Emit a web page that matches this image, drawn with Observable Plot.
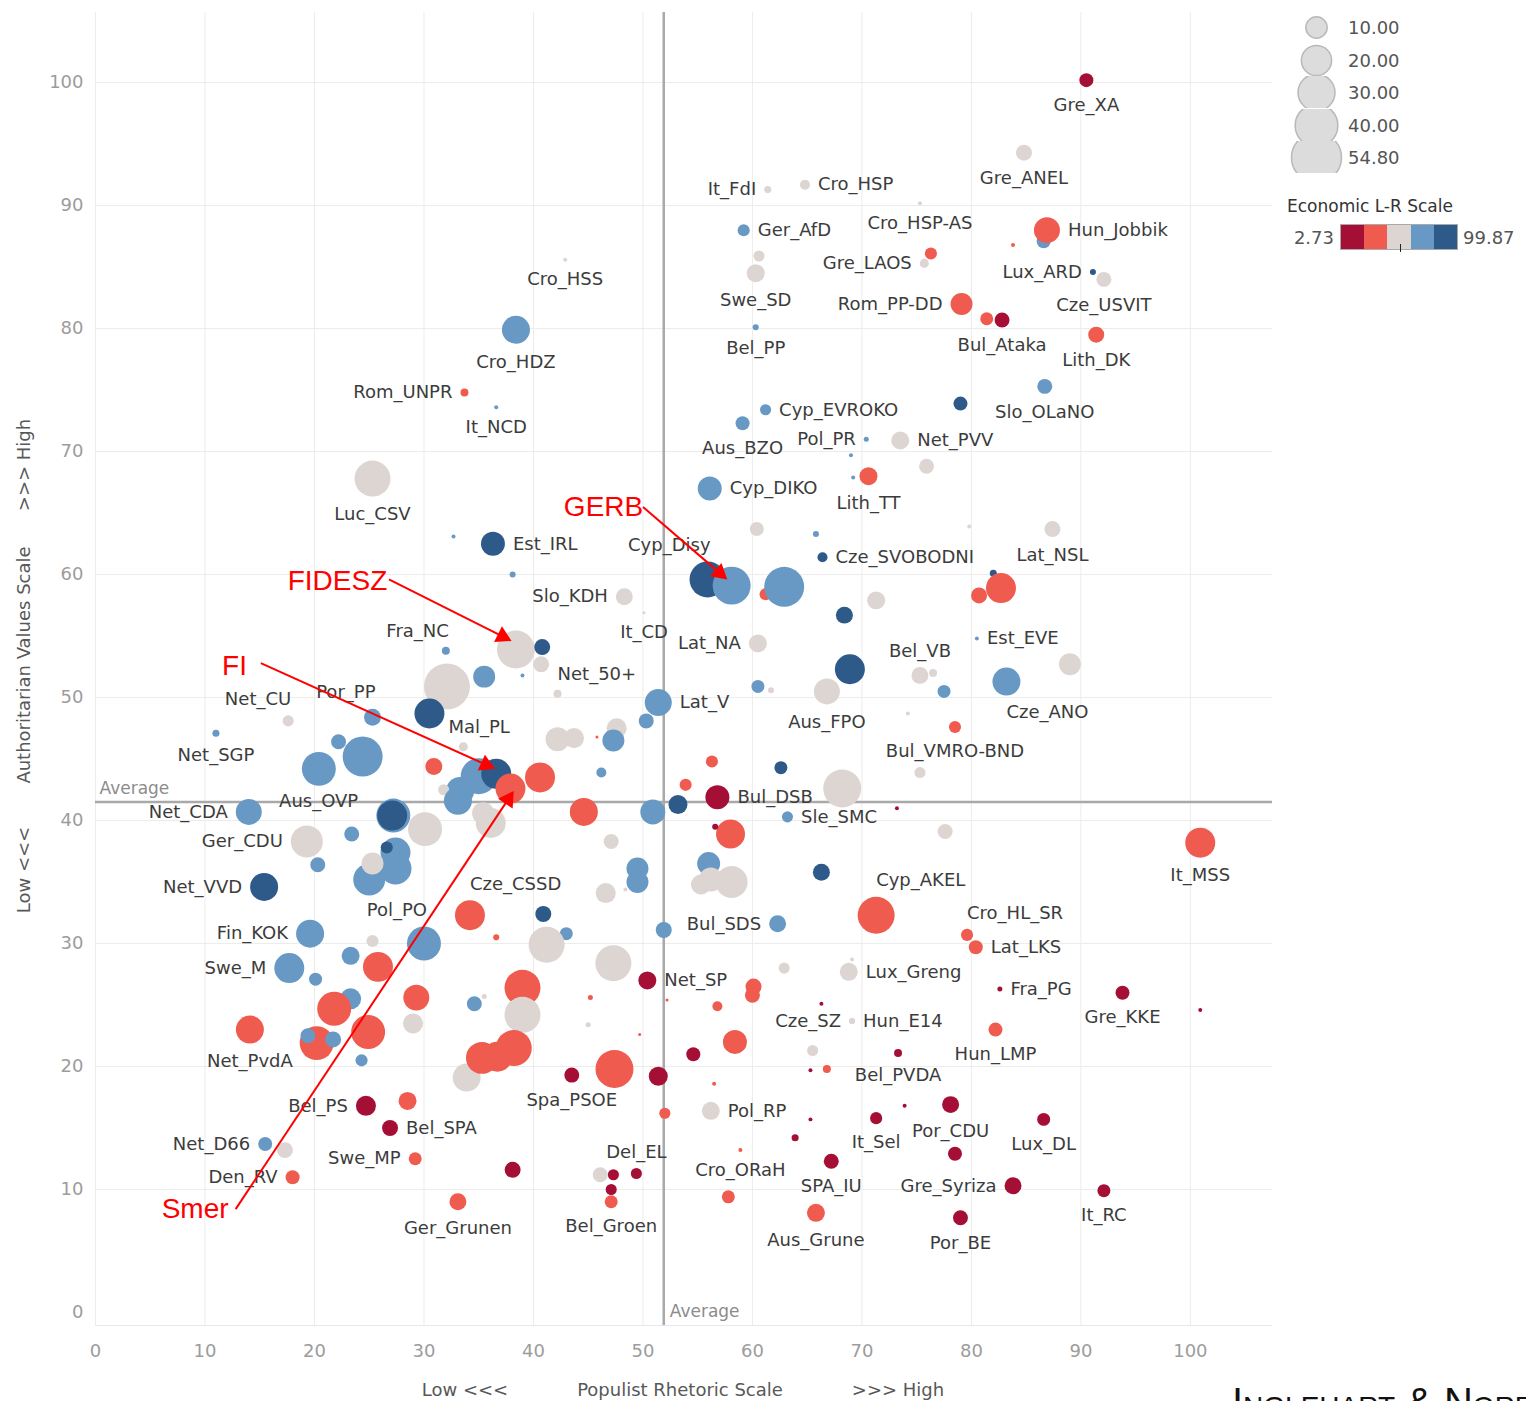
<!DOCTYPE html>
<html><head><meta charset="utf-8">
<script src="https://cdn.jsdelivr.net/npm/d3@7"></script>
<script src="https://cdn.jsdelivr.net/npm/@observablehq/plot@0.6"></script>
<style>
body{margin:0;background:#fff;font-family:"DejaVu Sans",sans-serif;overflow:hidden;width:1526px;height:1401px;position:relative}
.abs{position:absolute;white-space:nowrap}
</style></head><body>
<div id="chart" class="abs" style="left:0;top:0"></div>
<div id="legend"></div>
<script>
// ---------------- DATA ----------------
const parties = [
"Gre_XA","Gre_ANEL","It_FdI","Cro_HSP","Cro_HSP-AS","Ger_AfD","","Hun_Jobbik","","",
"Swe_SD","","Gre_LAOS","Lux_ARD","Cze_USVIT","Rom_PP-DD","","Bul_Ataka","Lith_DK","Bel_PP",
"Slo_OLaNO","","Cyp_EVROKO","Aus_BZO","Pol_PR","Net_PVV","","","Lith_TT","",
"Cyp_DIKO","","","","Lat_NSL","Cze_SVOBODNI","","","","Cyp_Disy",
"","","","","","Lat_NA","Est_EVE","","Bel_VB","",
"","","","Aus_FPO","","Cze_ANO","Lat_V","","","Bul_VMRO-BND",
"","","","","Bul_DSB","","","","","Sle_SMC",
"","","","","","","","","Cyp_AKEL","It_MSS",
"Bul_SDS","","Cro_HL_SR","Lat_LKS","","","Lux_Greng","Net_SP","","",
"Fra_PG","Gre_KKE","","","","","Cze_SZ","Hun_E14","Hun_LMP","",
"","","Bel_PVDA","","","","","Por_CDU","","Pol_RP",
"","","It_Sel","","Lux_DL","","Cro_ORaH","SPA_IU","Gre_Syriza","It_RC",
"","Aus_Grune","Por_BE","Cro_HSS","Cro_HDZ","Rom_UNPR","It_NCD","Luc_CSV","","Est_IRL",
"","Slo_KDH","It_CD","","","","","Fra_NC","","",
"Net_50+","Mal_PL","Por_PP","Net_CU","Net_SGP","","","","","",
"","","","","","","","","","",
"","","","","Net_CDA","","Aus_OVP","","","",
"Ger_CDU","","","","","","","","","Net_VVD",
"","","","","Cze_CSSD","Pol_PO","","","","",
"","Fin_KOK","","","","Swe_M","","","","",
"","","","","","Net_PvdA","","","","",
"","","","","","","","","","Spa_PSOE",
"Bel_PS","","Bel_SPA","Net_D66","","Swe_MP","Den_RV","Ger_Grunen","","",
"","Del_EL","","Bel_Groen"];

const labelPos = [
"b","b","l","r","b","r","","r","","",
"b","","l","l","b","l","","b","b","b",
"b","","r","b","l","r","","","b","",
"r","","","","b","r","","","","tl",
"","","","","","l","r","","t","",
"","","","b","","br","r","","","b",
"","","","","r","","","","","r",
"","","","","","","","","tr","b",
"l","","tr","r","","","r","r","","",
"r","b","","","","","l","r","b","",
"","","b","","","","","b","","r",
"","","b","","b","","b","b","l","b",
"","b","b","b","b","l","b","b","","r",
"","l","b","","","","","tl","","",
"tr","rb","tl","tl","b","","","","","",
"","","","","","","","","","",
"","","","","l","","lt","","","",
"l","","","","","","","","","l",
"","","","","tr","tl","","","","",
"","l","","","","l","","","","",
"","","","","","b","","","","",
"","","","","","","","","","b",
"l","","r","l","","l","l","b","","",
"","t","","b"];

// Populist Rhetoric Scale (x)
const populism = [
90.5,84.8,61.4,64.8,75.3,59.2,86.6,86.9,83.8,60.6,
60.3,76.3,75.7,91.1,92.1,79.1,81.4,82.8,91.4,60.3,
86.7,79.0,61.2,59.1,70.4,73.5,69.0,75.9,70.6,69.2,
56.1,60.4,65.8,79.8,87.4,66.4,82.0,82.7,80.7,55.9,
58.1,61.2,62.9,71.3,68.4,60.5,80.5,89.0,75.3,68.9,
76.5,60.5,61.7,66.8,77.5,83.2,51.4,50.3,74.2,78.5,
56.3,62.6,75.3,53.9,56.8,68.2,53.2,50.9,73.2,63.2,
58.0,56.6,77.6,56.0,55.3,56.2,58.1,66.3,71.3,100.9,
62.3,51.9,79.6,80.4,62.9,69.1,68.8,50.4,60.1,60.0,
82.6,93.8,100.9,66.3,56.8,52.2,69.1,69.1,82.2,58.4,
54.6,65.5,73.3,65.3,66.8,51.4,56.5,78.1,73.9,56.2,
52.0,65.3,71.3,78.5,86.6,63.9,58.9,67.2,83.8,92.1,
57.8,65.8,79.0,42.9,38.4,33.7,36.6,25.3,32.7,36.3,
38.1,48.3,50.1,38.4,40.8,40.7,39.0,32.0,35.5,32.1,
42.2,30.5,25.3,17.6,11.0,47.6,42.2,43.7,47.3,45.8,
22.2,24.4,20.4,33.6,46.2,30.9,35.0,36.6,33.3,31.8,
40.6,37.9,33.1,44.6,14.0,27.2,27.1,30.1,36.1,35.4,
19.3,23.4,47.1,27.4,26.6,27.4,25.0,25.3,20.3,15.4,
49.5,49.5,46.6,48.4,34.2,30.0,40.9,25.3,43.0,36.6,
41.2,19.6,23.3,25.8,47.3,17.7,20.1,29.3,23.3,21.8,
39.0,35.5,34.6,45.2,39.0,14.1,24.9,29.0,45.0,20.2,
19.4,21.7,49.7,33.9,36.7,38.2,24.3,47.4,35.3,43.5,
24.7,28.5,26.9,15.5,17.3,29.2,18.0,33.1,38.1,46.1,
47.3,49.4,47.1,47.1];

// Authoritarian Values Scale (y)
const authoritarian = [
100.2,94.3,91.3,91.7,90.2,88.0,87.1,88.0,86.8,85.9,
84.5,86.1,85.3,84.6,84.0,82.0,80.8,80.7,79.5,80.1,
75.3,73.9,73.4,72.3,71.0,70.9,69.7,68.8,68.0,67.9,
67.0,63.7,63.3,63.9,63.7,61.4,60.1,58.9,58.3,59.6,
59.1,58.4,59.0,57.9,56.7,54.4,54.8,52.7,51.8,52.3,
52.0,50.9,50.6,50.5,50.5,51.3,49.6,48.1,48.7,47.6,
44.8,44.3,43.9,42.9,41.9,42.6,41.3,40.7,41.0,40.3,
38.9,39.5,39.1,36.5,34.8,35.2,35.0,35.8,32.3,38.2,
31.6,31.1,30.7,29.7,28.0,28.7,27.7,27.0,26.5,25.8,
26.3,26.0,24.6,25.1,24.9,25.4,23.7,23.7,23.0,22.0,
21.0,21.3,21.1,19.7,19.8,19.2,18.6,16.9,16.8,16.4,
16.2,15.7,15.8,12.9,15.7,14.2,13.2,12.3,10.3,9.9,
9.4,8.1,7.7,85.6,79.9,74.8,73.6,67.8,63.1,62.5,
60.0,58.2,56.9,53.9,54.1,52.7,51.8,53.8,51.7,50.9,
50.3,48.7,48.4,48.1,47.1,47.5,46.6,46.7,46.5,46.8,
46.4,45.2,44.2,46.0,43.9,44.4,43.6,43.8,42.4,42.5,
43.5,42.6,41.6,40.7,40.7,40.4,40.4,39.3,39.8,40.6,
38.3,38.9,38.3,37.4,37.8,36.1,35.2,36.5,36.4,34.6,
36.1,35.0,34.1,34.4,32.3,30.0,32.4,30.2,30.8,30.5,
29.9,30.8,29.0,28.1,28.4,28.0,27.1,25.6,25.5,24.7,
26.4,25.7,25.1,25.6,24.2,23.0,22.8,23.5,23.4,21.9,
22.5,22.2,22.6,19.1,20.8,21.5,20.5,19.8,20.7,19.3,
16.8,17.2,15.0,13.7,13.2,12.5,11.0,9.0,11.6,11.2,
11.2,11.3,10.0,9.0];

// bubble size (vote share)
const voteShare = [
4.3,5.6,1.1,2.2,0.35,3.2,4.3,14.8,0.35,2.7,
7.1,3.2,1.8,0.8,4.9,10.6,3.7,4.9,5.6,0.8,
4.9,4.3,2.7,4.3,0.55,7.1,0.35,4.9,7.1,0.35,
12.6,4.3,0.8,0.35,5.6,2.2,1.1,19.7,5.6,28.4,
31.6,3.2,35,7.1,6.3,7.1,0.35,10.6,6.3,19.7,
1.4,3.7,0.8,14.8,3.7,17.2,16,4.9,0.35,3.2,
3.2,3.7,2.7,3.2,12.6,31.6,7.9,13.7,0.35,2.7,
18.4,0.8,4.9,11.6,8.8,12.6,22.4,6.3,30,19.7,
6.3,5.6,3.2,4.3,2.7,0.35,7.1,7.1,5.6,4.9,
0.55,4.3,0.35,0.35,2.2,0.2,0.8,0.8,4.3,12.6,
4.3,2.7,1.4,0.35,1.4,7.9,0.35,6.3,0.35,7.1,
2.7,0.35,3.2,4.3,3.7,1.1,0.35,4.9,6.3,3.7,
3.7,7.1,4.9,0.35,17.2,1.4,0.35,28.4,0.35,12.6,
0.8,6.3,0.2,31.6,5.6,5.6,0.35,1.4,10.6,46.3,
1.4,19.7,6.3,2.7,1.1,8.8,12.6,8.8,10.6,0.2,
4.9,35,25.3,1.8,2.2,6.3,28.4,19.7,17.2,2.7,
19.7,19.7,17.2,17.2,14.8,25.3,19.7,25.3,19.7,10.6,
22.4,4.9,4.9,19.7,3.2,22.4,22.4,10.6,4.9,17.2,
10.6,10.6,8.8,0.35,19.7,25.3,5.6,3.2,3.7,0.8,
28.4,17.2,7.1,19.7,28.4,19.7,3.7,14.8,9.7,25.3,
28.4,0.55,4.9,0.55,28.4,17.2,25.3,8.8,0.55,25.3,
4.9,5.6,0.2,17.2,19.7,28.4,3.2,31.6,22.4,4.9,
8.8,7.1,5.6,4.3,5.6,3.7,4.3,6.3,5.6,4.9,
2.7,2.7,2.7,3.7];

// Economic L-R Scale (colour)
const econLR = [
12,51,51,51,51,71,71,32,32,51,
51,32,51,90,51,32,32,12,32,71,
71,90,71,71,71,51,71,51,32,71,
71,51,71,51,51,90,90,32,32,90,
71,32,71,51,90,51,71,51,51,90,
51,71,51,51,71,71,71,71,51,32,
32,90,51,32,12,51,90,71,12,71,
32,12,51,71,51,51,51,90,32,32,
71,71,32,32,51,51,51,12,32,32,
12,12,12,12,32,32,51,51,32,32,
12,51,12,12,32,12,32,12,12,51,
32,12,12,12,12,12,32,12,12,12,
32,32,12,51,71,32,71,51,71,90,
71,51,51,51,90,51,71,71,71,51,
51,90,71,51,71,51,51,51,71,32,
71,71,71,51,71,32,71,90,71,51,
32,32,71,32,71,71,90,51,51,51,
51,71,51,71,90,71,71,51,71,90,
71,71,51,51,32,71,90,51,71,32,
51,71,71,32,51,71,71,32,71,32,
32,51,71,32,51,32,32,51,51,32,
71,71,32,51,32,32,71,32,32,12,
12,32,12,71,51,32,32,32,12,51,
12,12,12,32];

const xTicks = [0,10,20,30,40,50,60,70,80,90,100];
const yTicks = [0,10,20,30,40,50,60,70,80,90,100];
const avgPopulism = 51.9;
const avgAuthoritarian = 41.5;

const econRange = [2.73, 99.87];
const econThresholds = [22.16, 41.59, 61.01, 80.44];
const econColors = ["#a50f36", "#ef5b4e", "#ddd5d2", "#6799c4", "#2d5a88"];

const sizeLegend = [10, 20, 30, 40, 54.8];
const sizeMax = 54.8;

const annoText = ["GERB", "FIDESZ", "FI", "Smer"];
const annoX = [46.4, 22.1, 12.7, 9.1];
const annoY = [65.5, 59.5, 52.6, 8.4];
const arrowFromX = [50.0, 26.8, 15.1, 12.8];
const arrowFromY = [65.5, 59.6, 52.8, 8.4];
const arrowToX = [57.7, 38.0, 36.5, 38.2];
const arrowToY = [59.6, 54.6, 44.2, 42.4];

// ---------------- LAYOUT ----------------
const n = parties.length;
[labelPos, populism, authoritarian, voteShare, econLR].forEach((a, k) => {
  if (a.length !== n) throw new Error("length mismatch in array " + k + ": " + a.length + " vs " + n);
});

const W = 1526, H = 1401, mL = 95, mR = 254, mT = 12, mB = 76;
const xDomain = [0, 107.5], yDomain = [-1.06, 105.7];
const kx = (W - mL - mR) / (xDomain[1] - xDomain[0]);
const ky = (H - mT - mB) / (yDomain[1] - yDomain[0]);
const rMax = 25;
const rPx = d3.scaleSqrt().domain([0, sizeMax]).range([0, rMax]);
const FONT = "DejaVu Sans";

const points = parties.map((name, i) => ({
  name, x: populism[i], y: authoritarian[i], size: voteShare[i], econ: econLR[i], pos: labelPos[i]
}));

function place(d) {
  const r = rPx(d.size);
  let dx = 0, dy = 0, anchor = "middle";
  switch (d.pos) {
    case "b": dy = r + 18; break;
    case "t": dy = -(r + 16); break;
    case "l": dx = -(r + 8); anchor = "end"; break;
    case "r": dx = r + 8; anchor = "start"; break;
    case "tl": dx = 3; dy = -(r + 16); anchor = "end"; break;
    case "tr": dx = 0; dy = -(r + 16); anchor = "start"; break;
    case "br": dx = 0; dy = r + 17; anchor = "start"; break;
    case "rb": dx = r + 4; dy = 14; anchor = "start"; break;
    case "lt": dx = -(r + 19); dy = -14; anchor = "end"; break;
  }
  return {...d, lx: d.x + dx / kx, ly: d.y - dy / ky, anchor};
}
const labels = points.filter(d => d.name).map(place);

const headR = 6.5;
const tipDist = 2 * Math.sqrt(Math.PI * headR * headR / (Math.sqrt(3) * 3));
const arrows = annoText.map((t, i) => {
  const dxp = (arrowToX[i] - arrowFromX[i]) * kx;
  const dyp = -(arrowToY[i] - arrowFromY[i]) * ky;
  const len = Math.hypot(dxp, dyp), ux = dxp / len, uy = dyp / len;
  return {
    t, x1: arrowFromX[i], y1: arrowFromY[i],
    hx: arrowToX[i] - ux * tipDist / kx, hy: arrowToY[i] + uy * tipDist / ky,
    rot: Math.atan2(dyp, dxp) * 180 / Math.PI + 90
  };
});
const annos = annoText.map((t, i) => ({t, x: annoX[i], y: annoY[i]}));

const chart = Plot.plot({
  width: W, height: H,
  marginLeft: mL, marginRight: mR, marginTop: mT, marginBottom: mB,
  style: {fontFamily: FONT, fontSize: "18px", background: "white"},
  x: {domain: xDomain},
  y: {domain: yDomain},
  r: {type: "sqrt", domain: [0, sizeMax], range: [0, rMax]},
  color: {type: "threshold", domain: econThresholds, range: econColors},
  marks: [
    Plot.gridX(xTicks, {stroke: "#ececec", strokeOpacity: 1}),
    Plot.gridY(yTicks.filter(t => t > 0), {stroke: "#ececec", strokeOpacity: 1}),
    Plot.ruleY([yDomain[0]], {stroke: "#e8e8e8"}),
    Plot.axisY(yTicks, {tickSize: 0, tickPadding: 12, fontSize: 18, color: "#9c9c9c", label: null}),
    Plot.axisX(xTicks, {tickSize: 0, tickPadding: 19, fontSize: 18, color: "#9c9c9c", label: null}),
    Plot.ruleY([avgAuthoritarian], {stroke: "#a9a9a9", strokeWidth: 2.5}),
    Plot.ruleX([avgPopulism], {stroke: "#a9a9a9", strokeWidth: 2.5}),
    Plot.text([{x: xDomain[0], y: avgAuthoritarian}], {x: "x", y: "y", text: () => "Average", dx: 4, dy: -14, textAnchor: "start", fill: "#8c8c8c", fontSize: 17}),
    Plot.text([{x: avgPopulism, y: yDomain[0]}], {x: "x", y: "y", text: () => "Average", dx: 6, dy: -14, textAnchor: "start", fill: "#8c8c8c", fontSize: 17}),
    Plot.dot(points, {x: "x", y: "y", r: "size", fill: "econ", sort: null, fillOpacity: 1}),
    ...["start", "middle", "end"].map(a =>
      Plot.text(labels.filter(d => d.anchor === a), {x: "lx", y: "ly", text: "name", textAnchor: a, fill: "#3c3c3c", fontSize: 18})),
    Plot.link(arrows, {x1: "x1", y1: "y1", x2: "hx", y2: "hy", stroke: "#ff0000", strokeWidth: 2}),
    Plot.dot(arrows, {x: "hx", y: "hy", symbol: "triangle", r: headR, rotate: "rot", fill: "#ff0000", stroke: "none"}),
    Plot.text(annos, {x: "x", y: "y", text: "t", fill: "#ff0000", fontSize: 28, fontFamily: "Liberation Sans"})
  ]
});
document.getElementById("chart").appendChild(chart);

// ---------------- TITLES & LEGEND ----------------
const leg = document.getElementById("legend");
function addText(txt, css) {
  const d = document.createElement("div");
  d.className = "abs";
  d.textContent = txt;
  d.style.cssText += css;
  leg.appendChild(d);
  return d;
}
const titleCss = `font-size:18px;color:#585858;font-family:${FONT};`;
[["Low <<<", 465], ["Populist Rhetoric Scale", 680], [">>> High", 898]].forEach(([t, cx]) =>
  addText(t, titleCss + `left:${cx}px;top:1389px;transform:translate(-50%,-50%);`));
[["Low <<<", 870], ["Authoritarian Values Scale", 665], [">>> High", 465]].forEach(([t, cy]) =>
  addText(t, titleCss + `left:23px;top:${cy}px;transform:translate(-50%,-50%) rotate(-90deg);`));

// size legend: one tiny clipped plot per row
sizeLegend.forEach((v, i) => {
  const p = Plot.plot({
    width: 56, height: 32, margin: 0,
    x: {domain: [0, 1], axis: null}, y: {domain: [0, 1], axis: null},
    r: {type: "sqrt", domain: [0, sizeMax], range: [0, rMax]},
    marks: [Plot.dot([v], {x: () => 0.5, y: () => 0.5, r: d => d, fill: "#dcdcdc", stroke: "#b9b9b9", strokeWidth: 1.5, clip: true})]
  });
  const holder = document.createElement("div");
  holder.className = "abs";
  holder.style.cssText = `left:1288px;top:${11 + i * 32.5}px;`;
  holder.appendChild(p);
  leg.appendChild(holder);
  addText(v.toFixed(2), `left:1348px;top:${27 + i * 32.5}px;transform:translateY(-50%);font-size:18px;color:#555;`);
});

addText("Economic L-R Scale", `left:1287px;top:206px;transform:translateY(-50%);font-size:17px;color:#333;`);
addText(econRange[0].toFixed(2), `left:1334px;top:237px;transform:translate(-100%,-50%);font-size:18px;color:#555;`);
addText(econRange[1].toFixed(2), `left:1463px;top:237px;transform:translateY(-50%);font-size:18px;color:#555;`);
const ramp = document.createElement("div");
ramp.className = "abs";
ramp.style.cssText = "left:1340px;top:224px;width:118px;height:26px;display:flex;border:1px solid #a9a9a9;box-sizing:border-box;";
econColors.forEach(c => { const s = document.createElement("div"); s.style.cssText = `flex:1;background:${c};`; ramp.appendChild(s); });
leg.appendChild(ramp);
const tick = document.createElement("div");
tick.className = "abs";
tick.style.cssText = "left:1400px;top:244px;width:1px;height:8px;background:#222;";
leg.appendChild(tick);

// source credit, cropped by the page edge as in the original slide
addText("Inglehart & Norris", `left:1232px;top:1379px;font-size:40px;line-height:1.15;font-variant:small-caps;color:#111;font-family:"Liberation Sans";`);
</script>
</body></html>
